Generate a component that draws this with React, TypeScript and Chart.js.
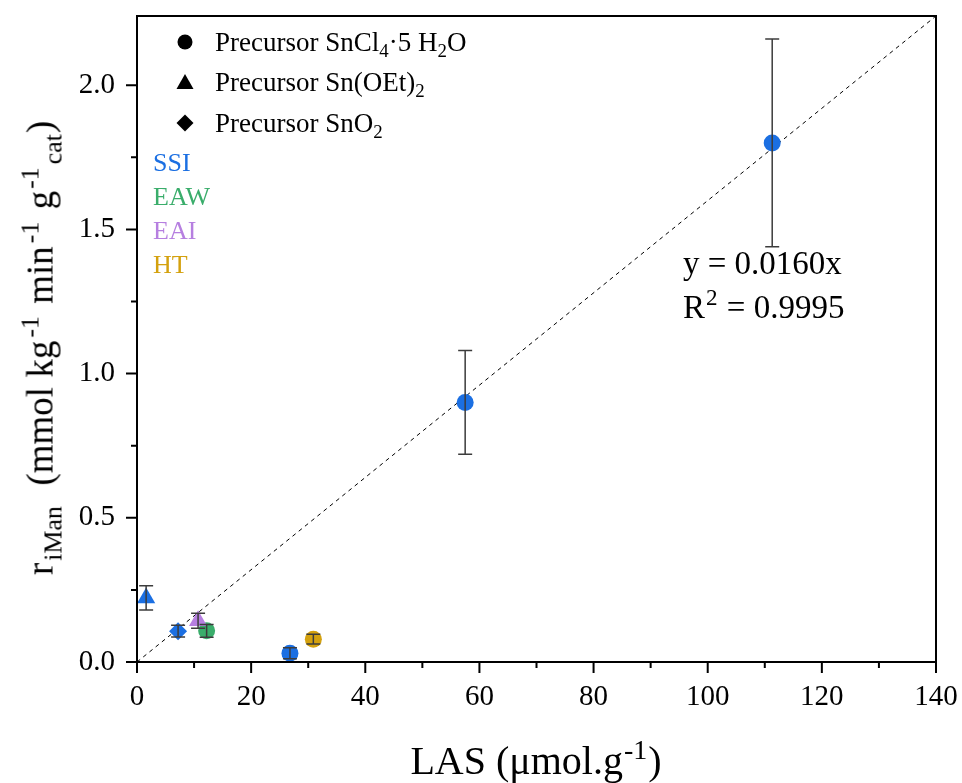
import React, { useEffect, useRef } from "react";
import { Chart, registerables } from "chart.js";

Chart.register(...registerables);

// ---- data ----
const xTicks = [0, 20, 40, 60, 80, 100, 120, 140];
const yTicks = [0.0, 0.5, 1.0, 1.5, 2.0];
const xMin = 0;
const xMax = 140;
const yMin = 0;
const yMax = 2.24;

const fitSlope = 0.016;
const fitX = [0, 140];

// SSI, precursor SnCl4·5H2O (circles)
const ssiCircleX = [111.3, 57.5, 26.8];
const ssiCircleY = [1.8, 0.9, 0.03];
const ssiCircleErr = [0.36, 0.18, 0.019];
// SSI, precursor Sn(OEt)2 (triangle)
const ssiTriX = [1.6];
const ssiTriY = [0.222];
const ssiTriErr = [0.042];
// SSI, precursor SnO2 (diamond)
const ssiDiaX = [7.2];
const ssiDiaY = [0.107];
const ssiDiaErr = [0.02];
// EAW (circle)
const eawX = [12.2];
const eawY = [0.108];
const eawErr = [0.022];
// EAI (triangle)
const eaiX = [10.7];
const eaiY = [0.143];
const eaiErr = [0.026];
// HT (circle)
const htX = [30.9];
const htY = [0.079];
const htErr = [0.017];

const BLUE = "#1b6fe2";
const GREEN = "#3aad6b";
const PURPLE = "#b67fe0";
const GOLD = "#d4a10e";

const FONT = '"Liberation Serif", "Times New Roman", serif';

const pts = (xs: number[], ys: number[]) => xs.map((x, i) => ({ x, y: ys[i] }));

const errorSets: Record<number, number[]> = {};

const frameAndErrors = {
  id: "frameAndErrors",
  afterDatasetsDraw(chart: any) {
    const ctx = chart.ctx;
    const { left, right, top, bottom } = chart.chartArea;
    const xs = chart.scales.x;
    const ys = chart.scales.y;
    // error bars
    ctx.save();
    ctx.strokeStyle = "#3c3c3c";
    ctx.lineWidth = 1.5;
    chart.data.datasets.forEach((ds: any, di: number) => {
      const errs = errorSets[di];
      if (!errs) return;
      ds.data.forEach((p: any, i: number) => {
        const e = errs[i];
        const px = xs.getPixelForValue(p.x);
        const y1 = ys.getPixelForValue(p.y + e);
        const y2 = ys.getPixelForValue(Math.max(p.y - e, 0));
        ctx.beginPath();
        ctx.moveTo(px, y1);
        ctx.lineTo(px, y2);
        ctx.moveTo(px - 7, y1);
        ctx.lineTo(px + 7, y1);
        ctx.moveTo(px - 7, y2);
        ctx.lineTo(px + 7, y2);
        ctx.stroke();
      });
    });
    ctx.restore();
    // frame
    ctx.save();
    ctx.strokeStyle = "#000";
    ctx.lineWidth = 2;
    ctx.strokeRect(left, top, right - left, bottom - top);
    ctx.beginPath();
    xTicks.forEach((v, i) => {
      const px = xs.getPixelForValue(v);
      ctx.moveTo(px, bottom);
      ctx.lineTo(px, bottom + 11);
      if (i < xTicks.length - 1) {
        const mx = xs.getPixelForValue((v + xTicks[i + 1]) / 2);
        ctx.moveTo(mx, bottom);
        ctx.lineTo(mx, bottom + 6);
      }
    });
    yTicks.forEach((v, i) => {
      const py = ys.getPixelForValue(v);
      ctx.moveTo(left, py);
      ctx.lineTo(left - 11, py);
      if (i < yTicks.length - 1) {
        const my = ys.getPixelForValue((v + yTicks[i + 1]) / 2);
        ctx.moveTo(left, my);
        ctx.lineTo(left - 6, my);
      }
    });
    ctx.stroke();
    ctx.restore();
  },
};

const legendShapes = {
  id: "legendShapes",
  afterDraw(chart: any) {
    const ctx = chart.ctx;
    ctx.save();
    ctx.fillStyle = "#000";
    // circle
    ctx.beginPath();
    ctx.arc(185, 42, 7.5, 0, Math.PI * 2);
    ctx.fill();
    // triangle
    ctx.beginPath();
    ctx.moveTo(185, 74);
    ctx.lineTo(193.5, 89);
    ctx.lineTo(176.5, 89);
    ctx.closePath();
    ctx.fill();
    // diamond
    ctx.beginPath();
    ctx.moveTo(185, 114.5);
    ctx.lineTo(193.5, 123);
    ctx.lineTo(185, 131.5);
    ctx.lineTo(176.5, 123);
    ctx.closePath();
    ctx.fill();
    ctx.restore();
  },
};

const sub = (t: string, m = 0) => (
  <span style={{ fontSize: "0.7em", position: "relative", top: "0.35em", margin: `0 ${m}px` }}>{t}</span>
);
const sup = (t: string, m = 0) => (
  <span style={{ fontSize: "0.7em", position: "relative", top: "-0.55em", margin: `0 ${m}px` }}>{t}</span>
);

const zeroPad = (axis: any) => {
  axis.paddingTop = 0;
  axis.paddingBottom = 0;
  axis.paddingLeft = 0;
  axis.paddingRight = 0;
};

export default function App() {
  const ref = useRef<HTMLCanvasElement>(null);
  useEffect(() => {
    if (!ref.current) return;
    const mk = (label: string, xs: number[], ys: number[], color: string, style: string, r: number, order: number) => ({
      type: "scatter" as const,
      label,
      data: pts(xs, ys),
      backgroundColor: color,
      borderColor: color,
      borderWidth: 0,
      pointStyle: style,
      pointRadius: r,
      order,
    });
    const datasets: any[] = [
      {
        type: "line",
        label: "fit",
        data: fitX.map((x) => ({ x, y: fitSlope * x })),
        borderColor: "#000",
        borderWidth: 1,
        borderDash: [4, 4],
        pointRadius: 0,
        fill: false,
        order: 10,
      },
      mk("SSI SnCl4", ssiCircleX, ssiCircleY, BLUE, "circle", 8.5, 3),
      mk("SSI Sn(OEt)2", ssiTriX, ssiTriY, BLUE, "triangle", 10.5, 3),
      mk("SSI SnO2", ssiDiaX, ssiDiaY, BLUE, "rectRot", 9, 4),
      mk("EAW", eawX, eawY, GREEN, "circle", 8.5, 5),
      mk("EAI", eaiX, eaiY, PURPLE, "triangle", 10.5, 1),
      mk("HT", htX, htY, GOLD, "circle", 8.5, 3),
    ];
    errorSets[1] = ssiCircleErr;
    errorSets[2] = ssiTriErr;
    errorSets[3] = ssiDiaErr;
    errorSets[4] = eawErr;
    errorSets[5] = eaiErr;
    errorSets[6] = htErr;

    const chart = new Chart(ref.current, {
      type: "scatter",
      data: { datasets },
      options: {
        animation: false,
        responsive: false,
        devicePixelRatio: 1,
        layout: { padding: { top: 16, right: 26, left: 0, bottom: 0 } },
        plugins: { legend: { display: false }, tooltip: { enabled: false } },
        scales: {
          x: {
            type: "linear",
            min: xMin,
            max: xMax,
            grid: { display: false, drawTicks: false, tickLength: 0 },
            border: { display: false },
            afterBuildTicks: (axis: any) => {
              axis.ticks = xTicks.map((v) => ({ value: v }));
            },
            afterFit: (axis: any) => {
              axis.height = 121;
              zeroPad(axis);
            },
            ticks: {
              padding: 18,
              color: "#000",
              font: { family: FONT, size: 29 },
              callback: (v: any) => String(v),
              maxRotation: 0,
            },
          },
          y: {
            type: "linear",
            min: yMin,
            max: yMax,
            grid: { display: false, drawTicks: false, tickLength: 0 },
            border: { display: false },
            afterBuildTicks: (axis: any) => {
              axis.ticks = yTicks.map((v) => ({ value: v }));
            },
            afterFit: (axis: any) => {
              axis.width = 137;
              zeroPad(axis);
            },
            ticks: {
              padding: 22,
              color: "#000",
              font: { family: FONT, size: 29 },
              callback: (v: any) => Number(v).toFixed(1),
            },
          },
        },
      },
      plugins: [frameAndErrors, legendShapes],
    } as any);
    return () => chart.destroy();
  }, []);

  const txt = (left: number, cy: number, size: number, color: string, children: any) => (
    <div
      style={{
        position: "absolute",
        left,
        top: cy - size / 2,
        fontSize: size,
        lineHeight: 1,
        height: size,
        color,
        fontFamily: FONT,
        whiteSpace: "nowrap",
      }}
    >
      {children}
    </div>
  );

  return (
    <div style={{ position: "absolute", left: 0, top: 0, width: 962, height: 783, background: "#fff" }}>
      <canvas ref={ref} width={962} height={783} style={{ width: 962, height: 783, display: "block" }} />
      {txt(215, 42, 27, "#000", <>Precursor SnCl{sub("4")}·5 H{sub("2")}O</>)}
      {txt(215, 82, 27, "#000", <>Precursor Sn(OEt){sub("2")}</>)}
      {txt(215, 123, 27, "#000", <>Precursor SnO{sub("2")}</>)}
      {txt(153, 163, 26, BLUE, "SSI")}
      {txt(153, 197, 26, GREEN, "EAW")}
      {txt(153, 231, 26, PURPLE, "EAI")}
      {txt(153, 265, 26, GOLD, "HT")}
      {txt(683, 263, 33, "#000", "y = 0.0160x")}
      {txt(683, 307, 33, "#000", <>R{sup("2", 1)} = 0.9995</>)}
      <div
        style={{
          position: "absolute",
          left: 536,
          top: 761,
          transform: "translate(-50%, -50%)",
          fontSize: 40,
          lineHeight: 1,
          fontFamily: FONT,
          whiteSpace: "nowrap",
          color: "#000",
        }}
      >
        LAS (μmol.g{sup("-1", 1)})
      </div>
      <div
        style={{
          position: "absolute",
          left: 40,
          top: 348,
          transform: "translate(-50%, -50%) rotate(-90deg)",
          fontSize: 37,
          lineHeight: 1,
          fontFamily: FONT,
          whiteSpace: "nowrap",
          color: "#000",
        }}
      >
        r{sub("iMan", 2)}&nbsp;&nbsp;(mmol kg{sup("-1", 3)} min{sup("-1", 3)} g{sup("-1", 2)}{sub("cat", 1)})
      </div>
    </div>
  );
}
